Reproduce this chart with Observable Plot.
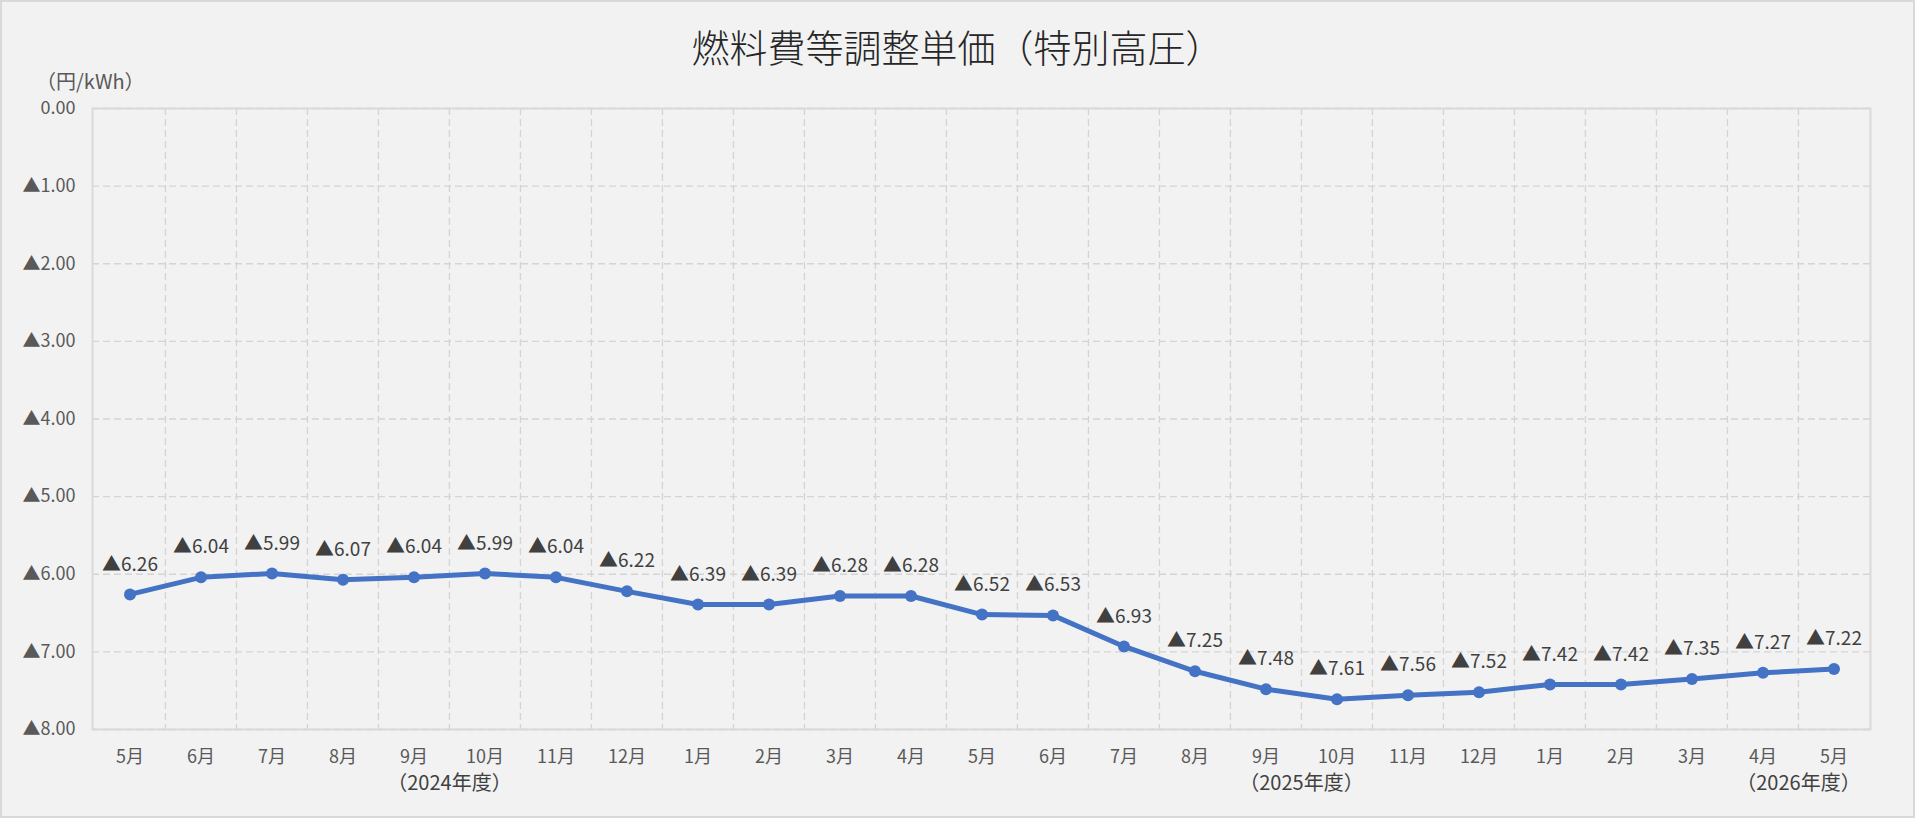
<!DOCTYPE html>
<html>
<head>
<meta charset="utf-8">
<script src="https://cdn.jsdelivr.net/npm/d3@7"></script>
<script src="https://cdn.jsdelivr.net/npm/@observablehq/plot@0.6"></script>
<style>
  html, body { margin: 0; padding: 0; background: #f2f2f2; }
  #wrap { position: relative; width: 1915px; height: 818px; background: #f2f2f2; overflow: hidden;
          font-family: "Noto Sans CJK JP", "Noto Sans", sans-serif; }
  #border { position: absolute; left: 0; top: 0; width: 1915px; height: 818px; box-sizing: border-box;
            border: 2px solid #d9d9d9; pointer-events: none; }
  #title { position: absolute; left: 0; width: 1915px; top: 22px; text-align: center;
           font-size: 38px; font-weight: 300; color: #262626; line-height: 48px; }
  #unit { position: absolute; left: 36px; top: 68px; font-size: 20px; color: #595959; line-height: 26px; }
  #chart { position: absolute; left: 0; top: 0; }
</style>
</head>
<body>
<div id="wrap">
  <div id="chart"></div>
  <div id="title">燃料費等調整単価（特別高圧）</div>
  <div id="unit">（円/kWh）</div>
  <div id="border"></div>
</div>
<script>
// ---- data ----
const periods = [
  "2024-05","2024-06","2024-07","2024-08","2024-09","2024-10","2024-11","2024-12",
  "2025-01","2025-02","2025-03","2025-04","2025-05","2025-06","2025-07","2025-08",
  "2025-09","2025-10","2025-11","2025-12","2026-01","2026-02","2026-03","2026-04","2026-05"
];
const monthLabels = [
  "5月","6月","7月","8月","9月","10月","11月","12月",
  "1月","2月","3月","4月","5月","6月","7月","8月",
  "9月","10月","11月","12月","1月","2月","3月","4月","5月"
];
const values = [
  -6.26, -6.04, -5.99, -6.07, -6.04, -5.99, -6.04, -6.22,
  -6.39, -6.39, -6.28, -6.28, -6.52, -6.53, -6.93, -7.25,
  -7.48, -7.61, -7.56, -7.52, -7.42, -7.42, -7.35, -7.27, -7.22
];
const yTicks = [0, -1, -2, -3, -4, -5, -6, -7, -8];
const yearLabels = ["（2024年度）", "（2025年度）", "（2026年度）"];
const yearAnchors = ["2024-10", "2025-10", "2026-05"];

// ---- build ----
const data = periods.map((p, i) => ({period: p, month: monthLabels[i], value: values[i]}));
const yearData = yearAnchors.map((p, i) => ({period: p, label: yearLabels[i]}));

const W = 1915, H = 818;
const mL = 92, mR = 45, mT = 108, mB = 89;
const bw = (W - mL - mR) / periods.length;
const fmt = v => (v === 0 ? "0.00" : "▲" + Math.abs(v).toFixed(2));
const font = "'Noto Sans CJK JP', 'Noto Sans', sans-serif";

const chart = Plot.plot({
  width: W,
  height: H,
  marginLeft: mL, marginRight: mR, marginTop: mT, marginBottom: mB,
  style: {background: "transparent", fontFamily: font, overflow: "visible"},
  x: {type: "band", domain: periods, padding: 0},
  y: {domain: [-8, 0]},
  marks: [
    Plot.ruleY(yTicks, {stroke: "#d4d4d4", strokeWidth: 1.3, strokeDasharray: "7,4"}),
    Plot.ruleX(periods.slice(1), {dx: -bw / 2, stroke: "#d4d4d4", strokeWidth: 1.3, strokeDasharray: "7,4"}),
    Plot.frame({stroke: "#d9d9d9", strokeWidth: 2}),
    Plot.axisY({ticks: yTicks, tickSize: 0, tickPadding: 17, tickFormat: fmt,
                fontSize: 18, color: "#595959", label: null}),
    Plot.axisX({tickSize: 0, tickPadding: 21, fontSize: 18, color: "#595959", label: null,
                tickFormat: d => monthLabels[periods.indexOf(d)]}),
    Plot.text(yearData, {x: "period", text: "label", frameAnchor: "bottom", lineAnchor: "middle",
                         dy: 54, dx: -bw / 2, fontSize: 20, fill: "#404040"}),
    Plot.line(data, {x: "period", y: "value", stroke: "#4472C4", strokeWidth: 5}),
    Plot.dot(data, {x: "period", y: "value", r: 6, fill: "#4472C4", stroke: "none"}),
    Plot.text(data, {x: "period", y: "value", text: d => fmt(d.value), dy: -30,
                     fontSize: 19, fill: "#404040"})
  ]
});
document.getElementById("chart").appendChild(chart);
</script>
</body>
</html>
